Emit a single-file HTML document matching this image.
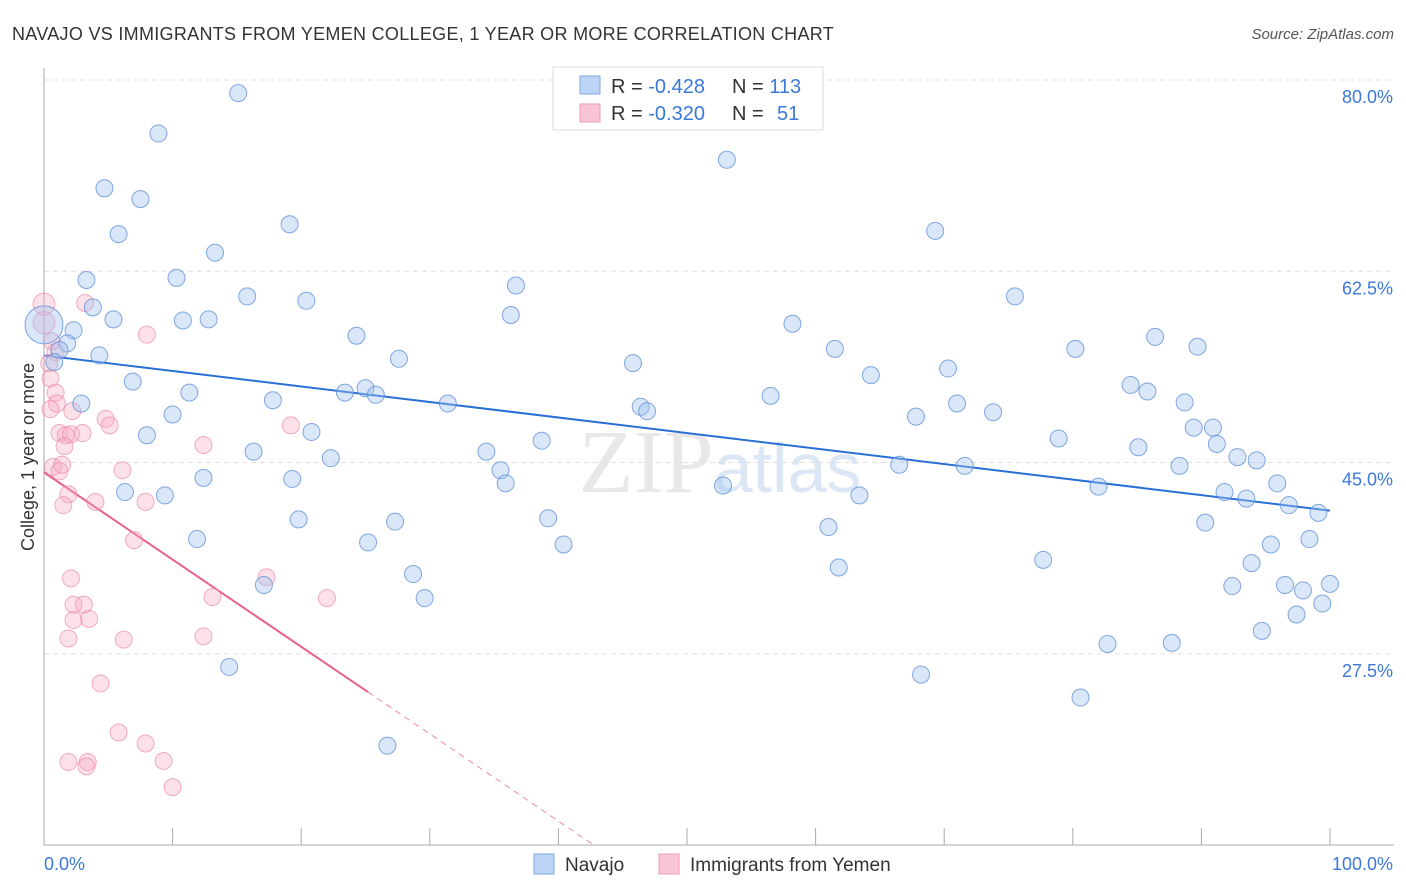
<!DOCTYPE html>
<html><head><meta charset="utf-8"><style>
body{margin:0;background:#fff;width:1406px;height:892px;overflow:hidden;font-family:"Liberation Sans",sans-serif}
svg{display:block}
</style></head><body>
<svg id="chart" width="1406" height="892" xmlns="http://www.w3.org/2000/svg">
<text x="12" y="40" font-size="18" fill="#333" letter-spacing="0.3">NAVAJO VS IMMIGRANTS FROM YEMEN COLLEGE, 1 YEAR OR MORE CORRELATION CHART</text>
<text x="1394" y="39" font-size="15" fill="#555" font-style="italic" text-anchor="end">Source: ZipAtlas.com</text>
<text x="720" y="492" font-size="90" fill="#e8e8e8" text-anchor="middle" font-family="Liberation Serif,serif">ZIP<tspan fill="#dbe7f5" font-family="Liberation Sans,sans-serif" font-size="70">atlas</tspan></text>
<text transform="translate(34,457) rotate(-90)" font-size="18" fill="#333" text-anchor="middle">College, 1 year or more</text>
<g id="grid"></g><g id="axes"></g><g id="trends"></g><g id="pts"></g>
<g>
<rect x="553" y="67" width="270" height="63" fill="#fff" stroke="#ddd"/>
<rect x="580" y="76" width="20" height="18" fill="#bcd4f5" stroke="#7fa8e6"/>
<rect x="580" y="104" width="20" height="18" fill="#f9c5d4" stroke="#ee9ab3"/>
<text x="611" y="93" font-size="20" fill="#333">R = <tspan fill="#3b78d8">-0.428</tspan><tspan x="732">N = </tspan><tspan fill="#3b78d8">113</tspan></text>
<text x="611" y="120" font-size="20" fill="#333">R = <tspan fill="#3b78d8">-0.320</tspan><tspan x="732">N = </tspan><tspan fill="#3b78d8" x="777">51</tspan></text>
</g>
<g>
<rect x="534" y="854" width="20" height="20" fill="#bcd4f5" stroke="#7fa8e6"/>
<text x="565" y="871" font-size="19" fill="#333">Navajo</text>
<rect x="659" y="854" width="20" height="20" fill="#f9c5d4" stroke="#ee9ab3"/>
<text x="690" y="871" font-size="19" fill="#333">Immigrants from Yemen</text>
</g>
</svg>
<script>
const yTicks=[27.5,45.0,62.5,80.0];
const xTickLabels=["0.0%","100.0%"];
const navajoX=[15.1,8.9,4.7,7.5,53.1,5.8,19.1,13.3,69.3,3.3,10.3,15.8,20.4,36.7,3.8,5.4,10.8,12.8,75.5,36.3,2.3,1.8,1.2,4.3,0.8,24.3,27.6,58.2,86.4,89.7,80.2,61.5,45.8,70.3,64.3,6.9,11.3,23.4,25.0,25.8,17.8,2.9,31.4,46.4,46.9,56.5,84.5,85.8,88.7,71.0,73.8,67.8,10.0,20.8,8.0,38.7,78.9,89.4,90.9,91.2,85.1,16.3,22.3,34.4,35.5,35.9,12.4,19.3,92.8,94.3,88.3,66.5,71.6,52.8,6.3,9.4,63.4,82.0,91.8,93.5,95.9,96.8,99.1,19.8,27.3,39.2,61.0,90.3,11.9,25.2,40.4,95.4,98.4,77.7,93.9,61.8,28.7,17.1,29.6,92.4,96.5,97.9,100,99.4,97.4,94.7,82.7,87.7,14.4,68.2,80.6,26.7,0];
const navajoY=[78.8,75.1,70.1,69.1,72.7,65.9,66.8,64.2,66.2,61.7,61.9,60.2,59.8,61.2,59.2,58.1,58.0,58.1,60.2,58.5,57.1,55.9,55.3,54.8,54.2,56.6,54.5,57.7,56.5,55.6,55.4,55.4,54.1,53.6,53.0,52.4,51.4,51.4,51.8,51.2,50.7,50.4,50.4,50.1,49.7,51.1,52.1,51.5,50.5,50.4,49.6,49.2,49.4,47.8,47.5,47.0,47.2,48.2,48.2,46.7,46.4,46.0,45.4,46.0,44.3,43.1,43.6,43.5,45.5,45.2,44.7,44.8,44.7,42.9,42.3,42.0,42.0,42.8,42.3,41.7,43.1,41.1,40.4,39.8,39.6,39.9,39.1,39.5,38.0,37.7,37.5,37.5,38.0,36.1,35.8,35.4,34.8,33.8,32.6,33.7,33.8,33.3,33.9,32.1,31.1,29.6,28.4,28.5,26.3,25.6,23.5,19.1,57.6];
const yemenX=[0,0,3.2,8.0,0.6,0.9,0.4,0.5,0.9,1.0,0.5,2.2,4.8,5.1,1.2,1.7,2.1,3.0,1.6,0.7,1.2,1.4,6.1,12.4,19.2,1.9,4.0,1.5,7.9,7.0,2.1,17.3,2.3,3.1,13.1,22.0,2.3,3.5,1.9,6.2,12.4,4.4,5.8,7.9,1.9,3.4,3.3,9.3,10.0];
const yemenY=[59.5,57.8,59.6,56.7,56.1,55.1,54.1,52.7,51.4,50.4,49.9,49.7,49.0,48.4,47.7,47.5,47.6,47.7,46.5,44.6,44.2,44.8,44.3,46.6,48.4,42.1,41.4,41.1,41.4,37.9,34.4,34.5,32.0,32.0,32.7,32.6,30.6,30.7,28.9,28.8,29.1,24.8,20.3,19.3,17.6,17.6,17.2,17.7,15.3];
const navajoTrend=[54.8,40.6];
const yemenTrend=[44.1,24.0,25.2];
const X=v=>44+v*12.86, Y=v=>80+(80-v)*10.93;
const NS="http://www.w3.org/2000/svg";
function mk(tag,attrs,parent){const e=document.createElementNS(NS,tag);for(const k in attrs)e.setAttribute(k,attrs[k]);document.getElementById(parent).appendChild(e);return e;}
yTicks.forEach(t=>{
 const l=mk('line',{x1:44,x2:1394,y1:Y(t),y2:Y(t),stroke:'#e0e0e0','stroke-dasharray':'5,4'},'grid');
 
 
 const tx=mk('text',{x:1393,y:Y(t)+23,'font-size':18,fill:'#3b78d8','text-anchor':'end'},'grid');
 tx.textContent=t.toFixed(1)+'%';
 
 
});
const ax=mk('line',{x1:44,x2:44,y1:68,y2:845,stroke:'#aaa'},'axes');


const bx=mk('line',{x1:44,x2:1394,y1:845,y2:845,stroke:'#aaa'},'axes');


for(let i=0;i<=10;i++){const t=mk('line',{x1:X(i*10),x2:X(i*10),y1:828,y2:845,stroke:'#aaa'},'axes');
 
 }
xTickLabels.forEach((s,i)=>{const t=mk('text',{x:i?1393:44,y:870,'font-size':18,fill:'#3b78d8','text-anchor':i?'end':'start'},'axes');t.textContent=s;
 
 });
yemenX.forEach((x,i)=>{const c=mk('circle',{cx:X(x),cy:Y(yemenY[i]),r:i<2?11:8.5,fill:'rgba(246,168,192,0.35)',stroke:'rgba(235,140,170,0.7)','stroke-width':1},'pts');
 
 });
navajoX.forEach((x,i)=>{const big=i===navajoX.length-1;const c=mk('circle',{cx:X(x),cy:Y(navajoY[i]),r:big?19:8.5,fill:'rgba(160,195,240,0.4)',stroke:'rgba(90,140,215,0.75)','stroke-width':1},'pts');
 
 });
const bl=mk('line',{x1:X(0),y1:Y(navajoTrend[0]),x2:X(100),y2:Y(navajoTrend[1]),stroke:'#2a6fd6','stroke-width':2},'trends');


const slope=(yemenTrend[1]-yemenTrend[0])/yemenTrend[2];
const xEnd=(10-yemenTrend[0])/slope;
const pl=mk('line',{x1:X(0),y1:Y(yemenTrend[0]),x2:X(yemenTrend[2]),y2:Y(yemenTrend[1]),stroke:'#e8608a','stroke-width':2},'trends');


const pd=mk('line',{x1:X(yemenTrend[2]),y1:Y(yemenTrend[1]),x2:X(xEnd),y2:Y(10),stroke:'#eb8aa8','stroke-width':1,'stroke-dasharray':'6,5'},'trends');


</script>
</body></html>
